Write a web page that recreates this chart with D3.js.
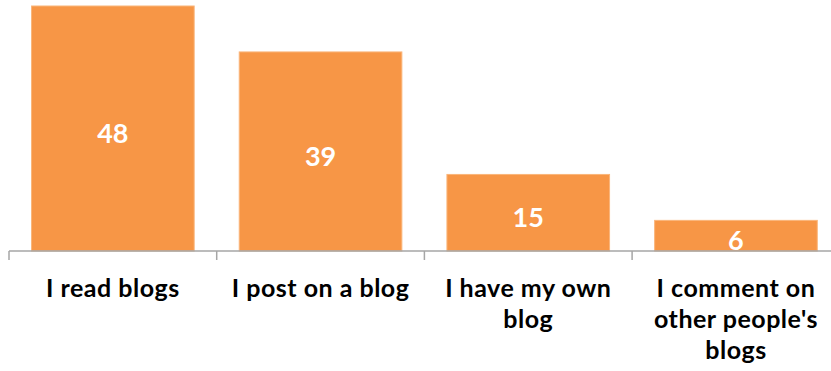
<!DOCTYPE html>
<html>
<head>
<meta charset="utf-8">
<script src="https://cdn.jsdelivr.net/npm/d3@7"></script>
<style>
  html, body { margin: 0; padding: 0; background: #fff; }
  svg { display: block; }
</style>
</head>
<body>
<svg id="chart" width="831" height="371"></svg>
<script>
// Survey answers about blog activity
const categories = ["I read blogs", "I post on a blog", "I have my own blog", "I comment on other people's blogs"];
const values = [48, 39, 15, 6];
// Wrapped axis label lines for each category
const labelLines = [
  ["I read blogs"],
  ["I post on a blog"],
  ["I have my own", "blog"],
  ["I comment on", "other people's", "blogs"]
];

const svg = d3.select("#chart");
const left = 9, bandW = 207.7, baseY = 251, topY = 6;

const x = d3.scaleBand()
  .domain(categories)
  .range([left, left + bandW * categories.length])
  .paddingInner(0.217)
  .paddingOuter(0.1085);

const y = d3.scaleLinear().domain([0, 48]).range([baseY, topY]);

// Bars
svg.append("g").selectAll("rect")
  .data(categories)
  .join("rect")
  .attr("x", d => x(d))
  .attr("y", (d, i) => y(values[i]))
  .attr("width", x.bandwidth())
  .attr("height", (d, i) => baseY - y(values[i]))
  .attr("fill", "#F79646")
  .attr("stroke", "#FAB57A")
  .attr("stroke-width", 1);

// Value labels centred in each bar
svg.append("g").selectAll("text")
  .data(categories)
  .join("text")
  .attr("x", d => x(d) + x.bandwidth() / 2)
  .attr("y", (d, i) => (y(values[i]) + baseY) / 2)
  .attr("dy", "0.52em")
  .attr("text-anchor", "middle")
  .attr("fill", "#fff")
  .style("font-family", "Lato, 'Open Sans', sans-serif")
  .style("font-weight", 700)
  .style("font-size", "27px")
  .text((d, i) => values[i]);

// Category axis with ticks at the band boundaries
const axisG = svg.append("g");
const axisColor = "#A6A6A6";
axisG.append("line")
  .attr("x1", left).attr("x2", 831)
  .attr("y1", baseY).attr("y2", baseY)
  .attr("stroke", axisColor).attr("stroke-width", 1.5);
const tickXs = d3.range(categories.length + 1).map(i => x.range()[0] + i * bandW);
axisG.selectAll("line.tick")
  .data(tickXs)
  .join("line")
  .attr("class", "tick")
  .attr("x1", d => d).attr("x2", d => d)
  .attr("y1", baseY).attr("y2", baseY + 9)
  .attr("stroke", axisColor).attr("stroke-width", 1.5);

// Category labels
const lab = svg.append("g").selectAll("text")
  .data(categories)
  .join("text")
  .attr("x", d => x(d) + x.bandwidth() / 2)
  .attr("y", 297)
  .attr("text-anchor", "middle")
  .attr("fill", "#000")
  .style("font-family", "Lato, 'Open Sans', sans-serif")
  .style("font-weight", 700)
  .style("font-size", "25px")
  .style("letter-spacing", "0.5px");
lab.each(function(d, i) {
  d3.select(this).selectAll("tspan")
    .data(labelLines[i])
    .join("tspan")
    .attr("x", x(d) + x.bandwidth() / 2)
    .attr("dy", (t, j) => j === 0 ? 0 : 31)
    .text(t => t);
});
</script>
</body>
</html>
